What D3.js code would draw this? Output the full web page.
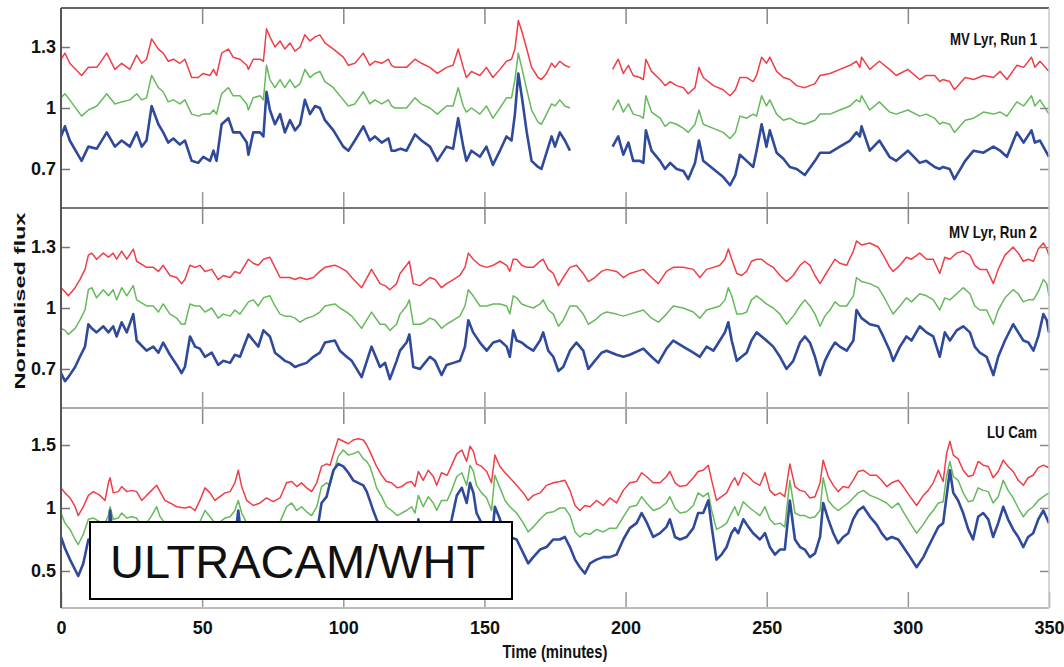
<!DOCTYPE html>
<html>
<head>
<meta charset="utf-8">
<script src="https://cdn.jsdelivr.net/npm/d3@7"></script>
<style>
  body { margin: 0; background: #fff; }
  svg text { font-family: "Liberation Sans Narrow", "Arial Narrow", "Liberation Sans", sans-serif; font-weight: bold; fill: #111; }
  .box text { font-family: "Liberation Sans", Arial, sans-serif; font-weight: normal; }
</style>
</head>
<body>
<div id="chart"></div>
<script>
// time grid (minutes) for each panel
const p1Time = [0,1.4,3.1,7.3,9.7,12.7,16.2,19.1,21.5,24.4,26.8,28.6,30.3,32.1,34.5,36.2,38,39.8,42.1,43.9,46.3,48.6,50.4,52.8,54,55.1,56.9,59.3,61,63.4,65.8,66.4,68.1,70.5,71.7,72.8,74,75.8,77.6,79.3,81.1,82.9,84.7,86.4,88.2,90,91.7,93.5,96.5,100,101.8,
  104.1,107.1,109.4,111.2,113.6,116,117.1,118.3,120.3,122.4,125.4,127.7,130.7,133.3,136.6,138.9,140.7,142.5,143.6,145.4,148.4,150.7,153,155.5,157.8,159.6,160.8,162,163.2,165,166.7,169,170.2,172,173.8,175,176.7,178.5,180.3,
  188,
  195.4,197.4,199.2,201,202.7,205.1,206.3,207.2,209.2,212.2,214,215.8,218.1,220.5,222.2,
  224.6,226,227.5,231.1,234.6,237,238.9,240.5,242.9,245.2,246.4,248.2,249.9,251.1,253.5,255.9,258.2,260.6,263.5,267.1,268.9,272.4,275.9,279.5,281.8,283,283.6,286.5,289.9,293.5,295.9,300,304.2,306.5,309.5,311.3,312.4,314.8,316.5,320.3,323.3,326.8,330.3,332.7,335.1,338.6,341,343.8,345,346.8,350];

const p1Red = [1.24,1.27,1.22,1.16,1.20,1.20,1.27,1.19,1.22,1.19,1.26,1.22,1.24,1.34,1.29,1.27,1.23,1.24,1.22,1.24,1.15,1.15,1.17,1.16,1.19,1.16,1.27,1.29,1.25,1.24,1.21,1.19,1.24,1.24,1.23,1.39,1.35,1.30,1.33,1.29,1.32,1.28,1.30,1.36,1.33,1.35,1.36,1.32,1.29,1.25,1.21,
  1.22,1.27,1.21,1.23,1.22,1.24,1.21,1.20,1.20,1.20,1.24,1.22,1.20,1.17,1.20,1.21,1.29,1.20,1.15,1.18,1.16,1.20,1.15,1.19,1.23,1.24,1.29,1.43,1.38,1.29,1.20,1.15,1.14,1.17,1.22,1.20,1.23,1.21,1.20,
  null,
  1.19,1.24,1.17,1.21,1.16,1.15,1.14,1.24,1.18,1.14,1.11,1.13,1.11,1.10,1.07,
  1.10,1.20,1.15,1.11,1.09,1.06,1.09,1.15,1.15,1.13,1.16,1.25,1.22,1.25,1.18,1.15,1.14,1.11,1.10,1.12,1.16,1.17,1.19,1.21,1.23,1.20,1.25,1.19,1.23,1.19,1.16,1.19,1.14,1.16,1.16,1.13,1.14,1.13,1.09,1.15,1.14,1.16,1.15,1.18,1.14,1.21,1.20,1.25,1.20,1.23,1.18];

const p1Green = [1.05,1.07,1.04,0.96,0.99,1.01,1.07,1.02,1.03,1.04,1.07,1.04,1.05,1.16,1.10,1.08,1.03,1.04,1.02,1.04,0.97,0.96,0.97,0.97,0.99,0.97,1.07,1.10,1.06,1.06,1.02,0.99,1.05,1.06,1.04,1.21,1.14,1.10,1.14,1.10,1.14,1.10,1.12,1.19,1.15,1.17,1.18,1.13,1.10,1.04,1.01,
  1.02,1.08,1.02,1.04,1.02,1.04,1.01,1.00,1.00,1.00,1.05,1.02,1.00,0.97,1.01,1.01,1.10,1.01,0.98,1.00,0.97,1.01,0.95,1.00,1.05,1.05,1.14,1.27,1.20,1.09,0.99,0.93,0.92,0.97,1.02,1.01,1.04,1.01,1.00,
  null,
  0.99,1.04,0.98,1.02,0.97,0.96,0.95,1.06,0.98,0.95,0.91,0.93,0.92,0.90,0.88,
  0.92,0.99,0.92,0.90,0.88,0.85,0.88,0.96,0.95,0.97,0.96,1.06,1.01,1.04,0.97,0.94,0.95,0.93,0.92,0.94,0.97,0.97,0.99,1.01,1.04,1.03,1.06,0.99,1.03,0.98,0.97,0.99,0.96,0.97,0.95,0.92,0.93,0.92,0.88,0.94,0.95,0.98,0.97,0.98,0.96,1.03,1.01,1.06,1.01,1.04,0.97];

const p1Blue = [0.86,0.91,0.84,0.74,0.81,0.80,0.88,0.81,0.84,0.81,0.88,0.81,0.84,1.01,0.92,0.88,0.83,0.85,0.82,0.84,0.74,0.73,0.76,0.74,0.79,0.74,0.92,0.95,0.88,0.88,0.83,0.77,0.88,0.88,0.86,1.08,0.99,0.92,0.97,0.88,0.94,0.89,0.92,1.04,0.97,1.01,1.00,0.94,0.89,0.81,0.79,
  0.84,0.91,0.84,0.86,0.83,0.85,0.79,0.79,0.80,0.79,0.87,0.84,0.81,0.74,0.81,0.80,0.95,0.81,0.74,0.79,0.76,0.81,0.72,0.79,0.86,0.84,0.97,1.17,1.06,0.88,0.74,0.71,0.70,0.78,0.86,0.81,0.88,0.84,0.79,
  null,
  0.81,0.86,0.77,0.83,0.74,0.74,0.73,0.89,0.79,0.74,0.70,0.73,0.70,0.69,0.65,
  0.73,0.84,0.74,0.70,0.66,0.62,0.67,0.77,0.74,0.71,0.79,0.92,0.81,0.89,0.78,0.75,0.71,0.70,0.67,0.74,0.78,0.78,0.81,0.84,0.88,0.86,0.91,0.79,0.84,0.76,0.74,0.79,0.73,0.74,0.71,0.70,0.71,0.70,0.65,0.74,0.79,0.78,0.81,0.79,0.76,0.88,0.83,0.89,0.83,0.84,0.76];

const p2Time = [0,1.4,2.6,5,6.7,8.5,9.7,10.9,12.6,15,16.8,18.5,19.7,21.5,23.3,25.6,26.8,30.3,32.7,34.5,36.2,38.6,41,42.7,43.9,45.7,47.5,49.2,51,53.4,55.7,57.5,59.9,61.6,63.4,66.4,68.1,69.9,71.7,74,75.8,77.6,79.3,81.1,82.9,84.7,87,89.4,91.7,93.5,97,98.8,101.2,103,
  106.5,110,113,114.8,116.5,118.9,120.1,122.4,123.4,124.8,127.2,128.9,130.7,132.5,134.8,136.6,139,141.3,143.1,144.3,146,148.4,150.8,153.1,155.5,157.9,159,160.2,161.4,163.2,165,167.3,169.7,170.8,172.6,174.4,176.2,177.9,180.3,182.6,185,186.8,189.1,191.5,193.3,196.8,199.2,201.5,206.3,209.2,211.6,214.5,216.9,220.4,224,
  226.3,228.7,231.1,233.4,235.2,236.4,237.6,239.4,241.1,242.9,244.6,246.4,248.2,249.9,252.3,254.7,257,259.4,261.8,263.5,265.3,267.1,268.9,270.6,272.4,274.2,275.9,278.3,280.7,281.8,283.6,286.5,289.5,291.3,293.6,294.8,297.2,299.5,301.3,304.2,306.6,309,311.3,313.1,314.9,317.3,319.6,322,323.7,325.5,327.9,330.3,332,334.4,337.3,339.1,340.9,342.7,344.5,346.2,348,349.2,350];

const p2Red = [1.10,1.08,1.06,1.10,1.14,1.19,1.26,1.27,1.24,1.27,1.25,1.27,1.24,1.28,1.24,1.29,1.23,1.20,1.20,1.18,1.21,1.16,1.15,1.12,1.14,1.21,1.20,1.21,1.18,1.19,1.14,1.16,1.15,1.18,1.17,1.24,1.22,1.21,1.24,1.25,1.20,1.15,1.15,1.15,1.14,1.15,1.14,1.15,1.18,1.20,1.21,1.20,1.18,1.15,
  1.10,1.19,1.12,1.11,1.09,1.12,1.17,1.21,1.23,1.12,1.11,1.13,1.15,1.14,1.10,1.12,1.14,1.16,1.20,1.27,1.24,1.21,1.20,1.21,1.23,1.21,1.18,1.24,1.24,1.21,1.20,1.20,1.23,1.24,1.19,1.17,1.11,1.15,1.20,1.21,1.17,1.13,1.15,1.18,1.19,1.18,1.15,1.17,1.19,1.15,1.12,1.18,1.20,1.20,1.19,
  1.15,1.19,1.20,1.21,1.24,1.29,1.24,1.17,1.16,1.18,1.23,1.24,1.24,1.22,1.20,1.16,1.13,1.16,1.21,1.23,1.21,1.16,1.12,1.16,1.20,1.24,1.22,1.21,1.28,1.33,1.31,1.32,1.30,1.26,1.20,1.18,1.21,1.25,1.24,1.27,1.24,1.24,1.17,1.25,1.24,1.27,1.28,1.26,1.21,1.19,1.19,1.12,1.19,1.26,1.30,1.27,1.23,1.24,1.23,1.29,1.32,1.29,1.26];

const p2Green = [0.90,0.89,0.87,0.90,0.94,0.99,1.09,1.10,1.05,1.09,1.06,1.09,1.04,1.10,1.06,1.11,1.04,1.01,1.01,0.98,1.02,0.97,0.95,0.92,0.92,1.02,1.01,1.01,0.98,1.00,0.95,0.97,0.96,0.99,0.97,1.03,1.04,1.01,1.05,1.06,1.01,0.97,0.96,0.96,0.95,0.93,0.95,0.96,0.98,1.01,1.02,1.00,0.98,0.96,
  0.90,0.98,0.92,0.92,0.89,0.92,0.97,1.01,1.04,0.92,0.92,0.93,0.95,0.94,0.90,0.92,0.94,0.96,1.01,1.09,1.06,1.01,1.01,1.02,1.02,1.01,0.97,1.06,1.05,1.02,1.01,1.00,1.02,1.04,0.99,0.97,0.91,0.94,1.01,1.01,0.97,0.92,0.94,0.97,0.98,0.97,0.96,0.97,0.99,0.95,0.93,0.97,1.01,1.00,0.98,
  0.95,0.99,1.00,1.01,1.04,1.10,1.06,0.97,0.97,0.98,1.04,1.06,1.04,1.02,1.00,0.97,0.92,0.96,1.01,1.04,1.01,0.97,0.91,0.96,0.99,1.03,1.01,1.01,1.06,1.15,1.13,1.12,1.10,1.06,1.00,0.97,1.01,1.05,1.03,1.07,1.06,1.04,0.99,1.05,1.04,1.07,1.10,1.07,1.01,0.99,0.99,0.92,0.99,1.05,1.09,1.07,1.03,1.04,1.04,1.08,1.14,1.12,1.06];

const p2Blue = [0.68,0.64,0.66,0.71,0.76,0.81,0.92,0.90,0.88,0.91,0.88,0.91,0.86,0.93,0.88,0.97,0.84,0.79,0.81,0.78,0.83,0.77,0.72,0.68,0.71,0.86,0.81,0.80,0.76,0.78,0.72,0.74,0.73,0.77,0.76,0.87,0.84,0.81,0.89,0.86,0.78,0.76,0.74,0.73,0.71,0.72,0.73,0.76,0.78,0.83,0.84,0.79,0.76,0.74,
  0.66,0.81,0.71,0.73,0.65,0.74,0.79,0.83,0.87,0.71,0.70,0.73,0.76,0.74,0.67,0.72,0.73,0.74,0.81,0.94,0.88,0.83,0.79,0.83,0.84,0.81,0.76,0.89,0.84,0.83,0.81,0.79,0.84,0.88,0.79,0.76,0.69,0.71,0.79,0.83,0.79,0.70,0.74,0.78,0.79,0.77,0.76,0.77,0.80,0.76,0.73,0.80,0.84,0.81,0.78,
  0.76,0.81,0.79,0.84,0.88,0.93,0.84,0.74,0.76,0.78,0.84,0.88,0.86,0.84,0.81,0.76,0.70,0.74,0.83,0.86,0.83,0.76,0.67,0.74,0.79,0.83,0.81,0.79,0.84,0.99,0.95,0.92,0.91,0.86,0.79,0.74,0.81,0.86,0.84,0.91,0.88,0.86,0.76,0.88,0.84,0.89,0.91,0.88,0.81,0.78,0.76,0.67,0.76,0.84,0.92,0.88,0.84,0.83,0.79,0.86,0.97,0.94,0.88];

const p3Time = [0,1.4,3.2,5,6.1,7.9,9.7,11.5,13.8,15.6,16.8,17.4,18.5,20.3,21.5,23.3,25,26.8,28.6,30.3,32.1,33.9,35.1,36.8,38.6,41,43.9,45.7,47.5,49.2,51,52.8,54.5,56.3,58.1,59.9,61.6,62.8,64,65.8,68.1,70.5,72.8,75.2,77.6,79.9,81.7,83.5,85.2,87,88.8,90.6,92.3,94.1,95.3,96.5,98.2,100,101.8,103.5,105.3,
  107.1,108.3,109.4,110.6,111.8,113.6,115.3,117.1,119.1,120.7,122.4,124.2,125.4,126.6,128.3,130.1,131.9,133.1,134.8,136.8,138.4,140.2,142,143.7,144.9,146.1,147.2,149,150.8,152.5,153.7,155.5,157.3,159,161.4,163.8,165.5,167.3,169.7,172,174.4,176.7,178.5,180.3,182.1,183.8,185.6,187.4,189.7,192.1,194.4,196.8,199.2,201.5,203.9,205.7,207.4,209.8,212.2,214.5,215.7,217.5,219.3,221.6,224,225.7,
  227.5,229.3,230.5,232.2,234,235.8,237.5,238.7,239.9,241.7,243.5,245.2,247.6,249.4,251.1,252.9,254.7,256.4,258.2,260,261.8,263.5,265.3,267.1,268.9,270,271.8,273.6,275.3,277.1,278.9,280.6,282.4,284.2,286.6,288.9,290.7,292.5,294.3,296.6,298.4,300.8,303.1,305.5,307.2,309,310.8,312.5,313.7,314.9,316.1,317.8,319.6,321.4,323.1,324.9,326.7,328.5,330.2,332,333.8,335.5,337.3,339.1,340.9,342.6,344.4,346.2,348,350];

const p3Red = [1.16,1.12,1.08,1.01,0.94,1.01,1.10,1.13,1.10,1.06,1.20,1.24,1.12,1.13,1.17,1.13,1.14,1.13,1.06,1.10,1.14,1.18,1.13,1.06,1.04,1.01,1.00,1.01,0.98,1.06,1.16,1.12,1.06,1.09,1.12,1.13,1.20,1.30,1.17,1.06,1.02,1.04,1.08,1.05,1.08,1.20,1.21,1.17,1.20,1.16,1.13,1.20,1.33,1.35,1.34,1.43,1.55,1.53,1.51,1.54,1.55,
  1.54,1.50,1.45,1.39,1.33,1.26,1.21,1.20,1.16,1.17,1.20,1.21,1.17,1.29,1.22,1.30,1.25,1.18,1.28,1.26,1.34,1.43,1.46,1.37,1.49,1.45,1.35,1.33,1.29,1.20,1.42,1.33,1.28,1.24,1.18,1.12,1.06,1.10,1.12,1.18,1.20,1.21,1.22,1.14,1.02,0.98,1.02,1.01,1.06,1.02,1.08,1.04,1.14,1.20,1.21,1.28,1.25,1.20,1.20,1.25,1.29,1.20,1.17,1.18,1.24,1.29,
  1.30,1.34,1.22,1.06,1.09,1.12,1.20,1.24,1.18,1.28,1.25,1.21,1.18,1.28,1.14,1.10,1.12,1.09,1.35,1.17,1.14,1.13,1.08,1.09,1.20,1.38,1.25,1.18,1.13,1.17,1.16,1.22,1.29,1.30,1.26,1.26,1.22,1.17,1.20,1.22,1.17,1.09,1.02,1.10,1.14,1.20,1.30,1.21,1.43,1.53,1.42,1.39,1.30,1.25,1.26,1.37,1.34,1.33,1.24,1.29,1.38,1.33,1.29,1.22,1.18,1.24,1.26,1.32,1.34,1.32];

const p3Green = [0.96,0.88,0.83,0.75,0.71,0.79,0.91,0.92,0.89,0.88,0.94,1.01,0.91,0.92,0.96,0.92,0.93,0.92,0.85,0.88,0.94,1.01,0.93,0.88,0.84,0.81,0.80,0.81,0.79,0.89,0.98,0.93,0.88,0.89,0.92,0.93,0.98,1.06,0.96,0.88,0.83,0.85,0.88,0.87,0.89,1.01,1.04,0.98,1.01,0.97,0.94,1.01,1.17,1.20,1.18,1.28,1.41,1.46,1.42,1.43,1.45,
  1.39,1.37,1.33,1.25,1.16,1.09,1.01,0.98,0.94,0.96,0.98,1.01,0.96,1.10,1.01,1.09,1.04,0.98,1.06,1.06,1.14,1.25,1.28,1.18,1.34,1.29,1.18,1.12,1.08,0.98,1.26,1.16,1.06,1.01,0.96,0.88,0.81,0.85,0.91,0.96,0.97,1.00,1.00,0.94,0.81,0.77,0.80,0.79,0.83,0.81,0.84,0.84,0.93,1.01,1.02,1.09,1.04,0.98,1.00,1.04,1.09,1.00,0.96,0.97,1.02,1.12,
  1.09,1.12,0.98,0.83,0.85,0.88,0.96,1.01,0.94,1.05,1.01,0.98,0.94,1.01,0.91,0.87,0.88,0.85,1.22,0.96,0.94,0.94,0.92,0.93,0.98,1.24,1.06,1.01,0.98,1.01,1.04,1.08,1.12,1.14,1.10,1.08,1.06,1.04,1.00,1.04,0.97,0.88,0.80,0.87,0.93,0.98,1.04,1.05,1.25,1.37,1.25,1.22,1.12,1.05,1.06,1.16,1.14,1.13,1.04,1.09,1.22,1.14,1.08,1.00,0.93,0.98,1.01,1.06,1.09,1.12];

const p3Blue = [0.77,0.68,0.59,0.51,0.46,0.56,0.75,0.69,0.67,0.64,0.75,0.98,0.72,0.69,0.72,0.69,0.69,0.68,0.61,0.64,0.72,0.80,0.69,0.64,0.59,0.56,0.53,0.56,0.53,0.67,0.77,0.69,0.64,0.65,0.69,0.69,0.75,0.98,0.75,0.64,0.59,0.61,0.64,0.63,0.65,0.77,0.80,0.75,0.77,0.72,0.69,0.80,1.04,1.09,1.20,1.30,1.35,1.33,1.28,1.22,1.20,
  1.18,1.13,1.06,0.98,0.91,0.83,0.75,0.72,0.67,0.69,0.72,0.75,0.69,0.91,0.77,0.85,0.80,0.72,0.80,0.81,0.91,1.10,1.16,1.04,1.20,1.12,0.96,0.88,0.83,0.72,1.01,0.91,0.80,0.77,0.75,0.64,0.56,0.61,0.67,0.69,0.75,0.75,0.77,0.69,0.59,0.53,0.48,0.56,0.59,0.61,0.61,0.63,0.75,0.84,0.88,0.96,0.89,0.77,0.80,0.85,0.91,0.77,0.75,0.77,0.84,0.96,
  0.96,1.06,0.85,0.59,0.63,0.69,0.80,0.84,0.80,0.91,0.85,0.80,0.75,0.80,0.69,0.63,0.67,0.67,1.06,0.75,0.69,0.67,0.61,0.64,0.77,1.04,0.91,0.80,0.72,0.77,0.80,0.91,0.98,1.01,0.93,0.87,0.80,0.75,0.77,0.75,0.69,0.61,0.53,0.61,0.69,0.77,0.85,0.88,1.09,1.30,1.12,1.06,0.96,0.83,0.75,0.93,0.96,0.91,0.77,0.88,1.01,0.91,0.83,0.77,0.69,0.77,0.80,0.91,0.98,0.88];

const panelNames = ["MV Lyr, Run 1", "MV Lyr, Run 2", "LU Cam"];
const yTicks = [[0.7, 1, 1.3], [0.7, 1, 1.3], [0.5, 1, 1.5]];
const yTickLabels = [["0.7", "1", "1.3"], ["0.7", "1", "1.3"], ["0.5", "1", "1.5"]];
const yDomains = [[0.508, 1.492], [0.508, 1.492], [0.206, 1.794]];
const xTicks = [0, 50, 100, 150, 200, 250, 300, 350];

const panels = [
  { time: p1Time, red: p1Red, green: p1Green, blue: p1Blue },
  { time: p2Time, red: p2Red, green: p2Green, blue: p2Blue },
  { time: p3Time, red: p3Red, green: p3Green, blue: p3Blue }
];

const W = 1064, H = 667;
const plotL = 61, plotR = 1049, plotT = 8, panelH = 200;
const colors = { red: "#ef3e48", green: "#66b95c", blue: "#2f4a9b" };
const widths = { red: 1.5, green: 1.5, blue: 2.6 };

const svg = d3.select("#chart").append("svg").attr("width", W).attr("height", H);

const x = d3.scaleLinear().domain([0, 350]).range([plotL, plotR]);

panels.forEach((p, i) => {
  const y0 = plotT + i * panelH;
  const y = d3.scaleLinear().domain(yDomains[i]).range([y0 + panelH, y0]);
  const g = svg.append("g");

  ["red", "green", "blue"].forEach((c) => {
    const pts = p.time.map((t, j) => ({ t: t, v: p[c][j] }));
    const line = d3.line()
      .defined((d) => d.v != null)
      .x((d) => x(d.t))
      .y((d) => y(d.v));
    g.append("path")
      .datum(pts)
      .attr("fill", "none")
      .attr("stroke", colors[c])
      .attr("stroke-width", widths[c])
      .attr("stroke-linejoin", "round")
      .attr("d", line);
  });

  // y axis left with inward ticks
  const yAxis = d3.axisLeft(y).tickValues(yTicks[i]).tickSize(-9).tickPadding(5)
    .tickFormat((d, k) => yTickLabels[i][k]);
  const ya = g.append("g").attr("transform", "translate(" + plotL + ",0)").call(yAxis);
  ya.select(".domain").remove();
  ya.selectAll("line").attr("stroke", "#777").attr("stroke-width", 1.5);
  ya.selectAll("text").style("font-size", "18px").attr("fill", "#111");

  const yAxisR = d3.axisRight(y).tickValues(yTicks[i]).tickSize(-9).tickFormat("");
  const yr = g.append("g").attr("transform", "translate(" + plotR + ",0)").call(yAxisR);
  yr.select(".domain").remove();
  yr.selectAll("line").attr("stroke", "#888").attr("stroke-width", 1.5);

  // x ticks, top and bottom of each panel
  const inner = xTicks.slice(1, -1);
  const xt = g.append("g").attr("transform", "translate(0," + y0 + ")")
    .call(d3.axisTop(x).tickValues(inner).tickSize(-16).tickFormat(""));
  xt.select(".domain").remove();
  xt.selectAll("line").attr("stroke", "#888").attr("stroke-width", 1.5);

  const xb = g.append("g").attr("transform", "translate(0," + (y0 + panelH) + ")")
    .call(d3.axisBottom(x).tickValues(i === 2 ? xTicks : inner).tickSize(-16).tickPadding(13)
      .tickFormat(i === 2 ? d3.format("d") : ""));
  xb.select(".domain").remove();
  xb.selectAll("line").attr("stroke", "#999").attr("stroke-width", 1.5);
  xb.selectAll("text").style("font-size", "18px").attr("fill", "#111");

  // panel label
  g.append("text")
    .attr("x", 1037)
    .attr("y", y0 + [37, 30, 30][i])
    .attr("text-anchor", "end")
    .attr("textLength", [87, 88, 50][i])
    .attr("lengthAdjust", "spacingAndGlyphs")
    .style("font-size", "17px")
    .text(panelNames[i]);
});

// frame
svg.append("line").attr("x1", plotL).attr("x2", plotR).attr("y1", plotT).attr("y2", plotT)
  .attr("stroke", "#666").attr("stroke-width", 2);
svg.append("line").attr("x1", plotL).attr("x2", plotR).attr("y1", plotT + panelH).attr("y2", plotT + panelH)
  .attr("stroke", "#777").attr("stroke-width", 2);
svg.append("line").attr("x1", plotL).attr("x2", plotR).attr("y1", plotT + 2 * panelH).attr("y2", plotT + 2 * panelH)
  .attr("stroke", "#aaa").attr("stroke-width", 2);
svg.append("line").attr("x1", plotL).attr("x2", plotR).attr("y1", plotT + 3 * panelH).attr("y2", plotT + 3 * panelH)
  .attr("stroke", "#bbb").attr("stroke-width", 2);
svg.append("line").attr("x1", plotL).attr("x2", plotL).attr("y1", plotT).attr("y2", plotT + 3 * panelH)
  .attr("stroke", "#555").attr("stroke-width", 2);
svg.append("line").attr("x1", plotR).attr("x2", plotR).attr("y1", plotT).attr("y2", plotT + 3 * panelH)
  .attr("stroke", "#c8c8c8").attr("stroke-width", 1.5);

// axis titles
svg.append("text")
  .attr("transform", "translate(25,301) rotate(-90)")
  .attr("text-anchor", "middle")
  .attr("textLength", 177)
  .attr("lengthAdjust", "spacingAndGlyphs")
  .style("font-family", "'Liberation Sans', Arial, sans-serif")
  .style("font-size", "14px")
  .text("Normalised flux");

svg.append("text")
  .attr("x", (plotL + plotR) / 2)
  .attr("y", 658)
  .attr("text-anchor", "middle")
  .attr("textLength", 105)
  .attr("lengthAdjust", "spacingAndGlyphs")
  .style("font-size", "18px")
  .text("Time (minutes)");

// instrument box
const box = svg.append("g").attr("class", "box");
box.append("rect")
  .attr("x", 90).attr("y", 522).attr("width", 422).attr("height", 77)
  .attr("fill", "#fff").attr("stroke", "#000").attr("stroke-width", 2);
box.append("text")
  .attr("x", 110).attr("y", 578)
  .style("font-size", "47px")
  .text("ULTRACAM/WHT");
</script>
</body>
</html>
